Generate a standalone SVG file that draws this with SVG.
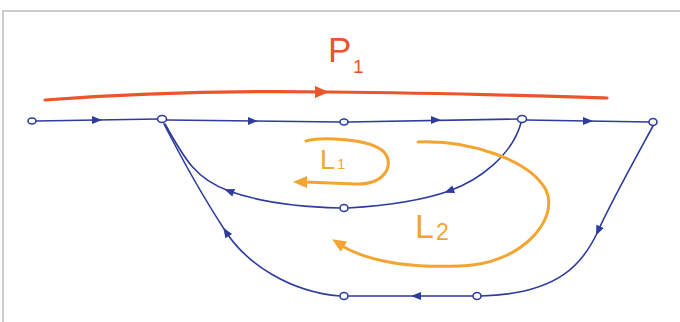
<svg xmlns="http://www.w3.org/2000/svg" width="680" height="322" viewBox="0 0 680 322">
<style>
.e{fill:none;stroke:#2e3c9c;stroke-width:1.6;stroke-linecap:round}
.n{fill:#fff;stroke:#2e3c9c;stroke-width:1.6}
.ah{fill:#2e3c9c}
.o{fill:none;stroke:#f4a431;stroke-width:3;stroke-linecap:round}
.oa{fill:#f4a431}
.r{fill:none;stroke:#ea552b;stroke-width:3.2;stroke-linecap:round}
.lo{font-family:"Liberation Sans",sans-serif;fill:#f4a431}
.lr{font-family:"Liberation Sans",sans-serif;fill:#ea552b}
</style>
<defs>
<path id="a" d="M5,0 L-5,-4 L-5,4 Z"/>
<path id="b" d="M7,0 L-7,-6 L-7,6 Z"/>
</defs>
<rect x="0" y="0" width="680" height="322" fill="#fff"/>
<path d="M3,322 L3,11 L680,11" fill="none" stroke="#c9cecd" stroke-width="2"/>
<g id="connectors">
<path class="e" d="M36,121 L158,119"/>
<path class="e" d="M167,120 L340,122"/>
<path class="e" d="M348,122 L518,119"/>
<path class="e" d="M526,120 L650,122"/>
<path class="e" d="M521,123 C512,155 480,180 449,191 S380,206 348,208"/>
<path class="e" d="M340,208 C300,207 262,203 229,191 S185,160 165,124"/>
<path class="e" d="M653,126 C640,150 612,200 598,231 S560,294 481,296"/>
<path class="e" d="M473,296 L348,296"/>
<path class="e" d="M164,124 C185,165 205,200 226,232 S290,292 340,296"/>
<use href="#a" class="ah" transform="translate(97,120)"/>
<use href="#a" class="ah" transform="translate(253,121)"/>
<use href="#a" class="ah" transform="translate(436,120)"/>
<use href="#a" class="ah" transform="translate(588,121)"/>
<use href="#a" class="ah" transform="translate(449,191) rotate(160)"/>
<use href="#a" class="ah" transform="translate(229,191) rotate(200)"/>
<use href="#a" class="ah" transform="translate(598,231) rotate(114)"/>
<use href="#a" class="ah" transform="translate(416,296) rotate(180)"/>
<use href="#a" class="ah" transform="translate(226,232) rotate(237)"/>
</g>
<g id="P1">
<path class="r" d="M45,100 C150,92 260,91 330,92 C450,93 540,96 607,98"/>
<use href="#b" class="oa" style="fill:#ea552b" transform="translate(322,92)"/>
<text class="lr" x="328" y="62" font-size="35">P</text>
<text class="lr" x="353" y="73" font-size="19">1</text>
</g>
<g id="L1">
<path class="o" d="M306,141 C320,137 370,138 384,152 C395,165 385,185 355,184 L305,182"/>
<use href="#b" class="oa" transform="translate(300,182) rotate(180)"/>
<text class="lo" x="320" y="169" font-size="27">L</text>
<text class="lo" x="337" y="169" font-size="15">1</text>
</g>
<g id="L2">
<path class="o" d="M418,142 C470,140 530,160 546,190 C560,220 520,265 460,266 C410,268 370,262 342,246"/>
<use href="#b" class="oa" transform="translate(338,243) rotate(212)"/>
<text class="lo" x="415" y="238" font-size="34">L</text>
<text class="lo" x="436" y="240" font-size="23">2</text>
</g>
<g id="n1"><ellipse class="n" cx="32" cy="121" rx="4" ry="3"/></g>
<g id="n2"><ellipse class="n" cx="162" cy="119" rx="4.5" ry="3.5"/></g>
<g id="n3"><ellipse class="n" cx="344" cy="122" rx="4" ry="3"/></g>
<g id="n4"><ellipse class="n" cx="522" cy="119" rx="4.5" ry="3.5"/></g>
<g id="n5"><ellipse class="n" cx="653" cy="122" rx="4" ry="3.5"/></g>
<g id="n6"><ellipse class="n" cx="344" cy="208" rx="4" ry="3.5"/></g>
<g id="n7"><ellipse class="n" cx="344" cy="296" rx="4" ry="3.5"/></g>
<g id="n8"><ellipse class="n" cx="477" cy="296" rx="4" ry="3.5"/></g>
</svg>
